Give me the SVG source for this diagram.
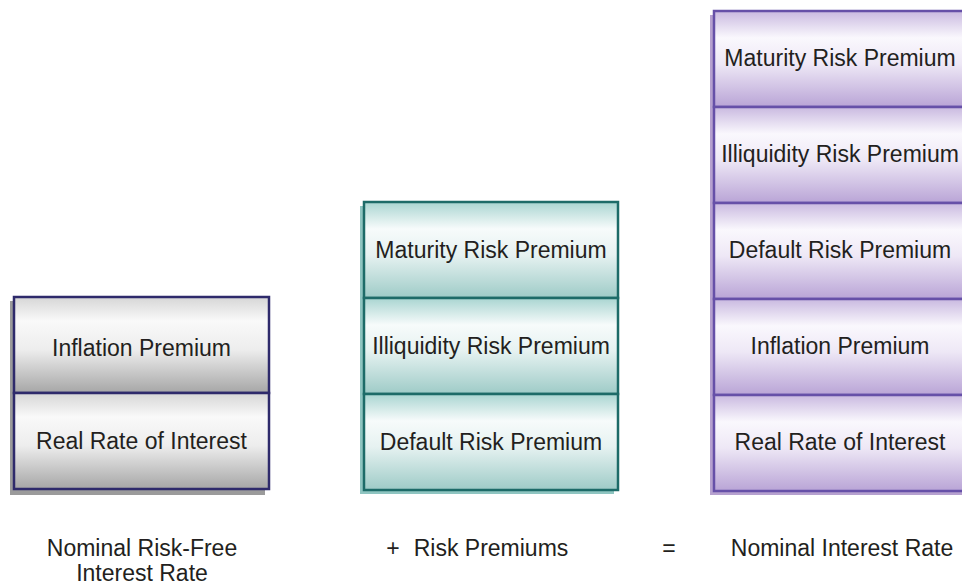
<svg xmlns="http://www.w3.org/2000/svg" width="962" height="586" viewBox="0 0 962 586">
<defs>
<linearGradient id="gGrey" x1="0" y1="0" x2="0" y2="1">
<stop offset="0" stop-color="#d6d6d6"/>
<stop offset="0.25" stop-color="#f9f9f9"/>
<stop offset="0.55" stop-color="#ededed"/>
<stop offset="1" stop-color="#a6a6a6"/>
</linearGradient>
<linearGradient id="gTeal" x1="0" y1="0" x2="0" y2="1">
<stop offset="0" stop-color="#a9d5d1"/>
<stop offset="0.28" stop-color="#f7fbfb"/>
<stop offset="0.55" stop-color="#e6f2f1"/>
<stop offset="1" stop-color="#9ecbc7"/>
</linearGradient>
<linearGradient id="gPurple" x1="0" y1="0" x2="0" y2="1">
<stop offset="0" stop-color="#c9b9e0"/>
<stop offset="0.28" stop-color="#faf8fd"/>
<stop offset="0.55" stop-color="#eee8f6"/>
<stop offset="1" stop-color="#b9a4d6"/>
</linearGradient>
</defs>
<style>
text{font-family:"Liberation Sans",Arial,sans-serif;font-size:23px;fill:#231f20;text-anchor:middle}
.grey rect.cell{fill:url(#gGrey);stroke:#2e2a6b;stroke-width:2.5}
.teal rect.cell{fill:url(#gTeal);stroke:#1d6b68;stroke-width:2.5}
.purple rect.cell{fill:url(#gPurple);stroke:#6650a8;stroke-width:2.5}
.grey .shadow{fill:#9b9b9b}
.teal .shadow{fill:#8fc5c1}
.purple .shadow{fill:#b6a1cf}
</style>

<g id="box-riskfree" class="grey">
<rect class="shadow" x="10" y="301" width="255" height="194"/>
<g id="rf-inflation"><rect class="cell" x="14" y="297" width="255" height="96"/><text x="141.5" y="356">Inflation Premium</text></g>
<g id="rf-real"><rect class="cell" x="14" y="393" width="255" height="96"/><text x="141.5" y="449">Real Rate of Interest</text></g>
</g>

<g id="box-premiums" class="teal">
<rect class="shadow" x="360" y="206" width="254" height="288"/>
<g id="rp-maturity"><rect class="cell" x="364" y="202" width="254" height="96"/><text x="491" y="258">Maturity Risk Premium</text></g>
<g id="rp-illiquidity"><rect class="cell" x="364" y="298" width="254" height="96"/><text x="491" y="354">Illiquidity Risk Premium</text></g>
<g id="rp-default"><rect class="cell" x="364" y="394" width="254" height="96"/><text x="491" y="450">Default Risk Premium</text></g>
</g>

<g id="box-nominal" class="purple">
<rect class="shadow" x="710" y="15" width="254" height="480"/>
<g id="ni-maturity"><rect class="cell" x="714" y="11" width="254" height="96"/><text x="840" y="66">Maturity Risk Premium</text></g>
<g id="ni-illiquidity"><rect class="cell" x="714" y="107" width="254" height="96"/><text x="840" y="162">Illiquidity Risk Premium</text></g>
<g id="ni-default"><rect class="cell" x="714" y="203" width="254" height="96"/><text x="840" y="258">Default Risk Premium</text></g>
<g id="ni-inflation"><rect class="cell" x="714" y="299" width="254" height="96"/><text x="840" y="354">Inflation Premium</text></g>
<g id="ni-real"><rect class="cell" x="714" y="395" width="254" height="96"/><text x="840" y="450">Real Rate of Interest</text></g>
</g>

<g id="labels">
<text x="142" y="556">Nominal Risk-Free</text>
<text x="142" y="581">Interest Rate</text>
<text x="393" y="556">+</text>
<text x="491" y="556">Risk Premiums</text>
<text x="669" y="556">=</text>
<text x="842" y="556">Nominal Interest Rate</text>
</g>
<g id="connectors"/>
</svg>
